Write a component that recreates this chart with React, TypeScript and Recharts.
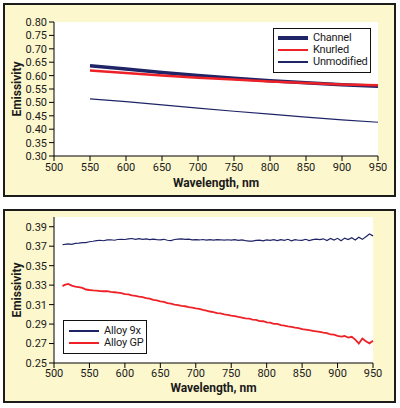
import { CartesianGrid, Legend, Line, LineChart, XAxis, YAxis } from "recharts"

// top panel: emissivity vs wavelength for three surface treatments
const topWavelengths = [550, 600, 650, 700, 750, 800, 850, 900, 950]
const channel = [0.637, 0.625, 0.612, 0.6, 0.59, 0.581, 0.573, 0.566, 0.56]
const knurled = [0.619, 0.61, 0.6, 0.592, 0.585, 0.578, 0.572, 0.567, 0.564]
const unmodified = [0.513, 0.503, 0.491, 0.479, 0.467, 0.456, 0.445, 0.435, 0.426]
const topXTicks = [500, 550, 600, 650, 700, 750, 800, 850, 900, 950]
const topYTicks = [0.3, 0.35, 0.4, 0.45, 0.5, 0.55, 0.6, 0.65, 0.7, 0.75, 0.8]

// bottom panel: two alloys, noisy spectra
const bottomWavelengths = [
  512, 515, 520, 525, 530, 535, 540, 545, 550, 555, 560, 565, 570, 575, 580, 585, 590, 595, 600, 605, 610, 615,
  620, 625, 630, 635, 640, 645, 650, 655, 660, 665, 670, 675, 680, 685, 690, 695, 700, 705, 710, 715, 720, 725,
  730, 735, 740, 745, 750, 755, 760, 765, 770, 775, 780, 785, 790, 795, 800, 805, 810, 815, 820, 825, 830, 835,
  840, 845, 850, 855, 860, 865, 870, 875, 880, 885, 890, 895, 900, 905, 910, 915, 920, 925, 930, 935, 940, 945,
  950,
]
const alloy9x = [
  0.3715, 0.3718, 0.3724, 0.3719, 0.3729, 0.3731, 0.3736, 0.3737, 0.3746, 0.3751, 0.3758, 0.3761, 0.3756, 0.3765,
  0.3766, 0.3761, 0.3769, 0.3771, 0.3769, 0.3776, 0.3779, 0.3771, 0.3777, 0.377, 0.3775, 0.3767, 0.3773, 0.3768,
  0.3766, 0.3771, 0.3761, 0.3757, 0.3769, 0.3772, 0.3775, 0.377, 0.3773, 0.3765, 0.3768, 0.3764, 0.3769, 0.3762,
  0.3767, 0.3763, 0.3768, 0.3766, 0.3762, 0.3766, 0.3762, 0.3767, 0.3759, 0.3764, 0.3757, 0.3753, 0.3752, 0.3759,
  0.3762, 0.3755, 0.3765, 0.3759, 0.3767, 0.3757, 0.3768, 0.3761, 0.3771, 0.3755, 0.3767, 0.3761, 0.376, 0.3771,
  0.3757, 0.3767, 0.3773, 0.3767, 0.3776, 0.3759, 0.3779, 0.3763, 0.3781, 0.3757, 0.3783, 0.3768, 0.3788, 0.3764,
  0.3792, 0.377, 0.3797, 0.3825, 0.3806,
]
const alloyGP = [
  0.329, 0.3302, 0.3313, 0.3295, 0.3285, 0.3279, 0.3271, 0.3255, 0.325, 0.3246, 0.3244, 0.3239, 0.3237, 0.3238,
  0.323, 0.3227, 0.3223, 0.3217, 0.3207, 0.3205, 0.3195, 0.3189, 0.3181, 0.3177, 0.3167, 0.3161, 0.3149, 0.3143,
  0.3134, 0.3127, 0.3115, 0.3109, 0.3099, 0.3095, 0.3087, 0.3083, 0.3075, 0.3069, 0.3061, 0.3056, 0.3045, 0.3039,
  0.3029, 0.3023, 0.3013, 0.3009, 0.2999, 0.2995, 0.2987, 0.2981, 0.2973, 0.2967, 0.2959, 0.2957, 0.2945, 0.2943,
  0.2931, 0.2929, 0.2917, 0.2915, 0.2903, 0.2901, 0.2889, 0.2885, 0.2877, 0.2871, 0.2863, 0.2859, 0.2847, 0.2843,
  0.2837, 0.2831, 0.2825, 0.2819, 0.2811, 0.2807, 0.2793, 0.2791, 0.2779, 0.2771, 0.2777, 0.2761, 0.2769, 0.2741,
  0.27, 0.2752, 0.2723, 0.2702, 0.2728,
]
const bottomXTicks = [500, 550, 600, 650, 700, 750, 800, 850, 900, 950]
const bottomYTicks = [0.25, 0.27, 0.29, 0.31, 0.33, 0.35, 0.37, 0.39]

const topData = topWavelengths.map((nm, i) => ({
  nm,
  Channel: channel[i],
  Knurled: knurled[i],
  Unmodified: unmodified[i],
}))
const bottomData = bottomWavelengths.map((nm, i) => ({ nm, "Alloy 9x": alloy9x[i], "Alloy GP": alloyGP[i] }))

const NAVY = "#1f2466"
const RED = "#ee2127"
const INK = "#1a1a1a"
const tickStyle = { fill: INK, fontSize: 11 }

function LegendBox({ payload, padLeft, padTop }: any) {
  return (
    <div
      style={{
        background: "#fff",
        border: "1px solid #111",
        padding: `${padTop}px 2px 4px ${padLeft}px`,
        boxSizing: "border-box",
        whiteSpace: "nowrap",
      }}
    >
      {(payload || []).map((entry: any) => (
        <div key={entry.value} style={{ display: "flex", alignItems: "center", height: 12 }}>
          <span
            style={{
              display: "inline-block",
              flex: "none",
              width: 30,
              height: (entry.payload && entry.payload.strokeWidth) || 1.5,
              background: entry.color,
            }}
          />
          <span style={{ marginLeft: 5, fontSize: 11, lineHeight: "12px", color: INK, letterSpacing: -0.2 }}>
            {entry.value}
          </span>
        </div>
      ))}
    </div>
  )
}

const panelStyle = {
  position: "absolute" as const,
  left: 3,
  width: 393,
  height: 194,
  background: "#fcf7cd",
  border: "2px solid #1c1c1c",
  boxSizing: "border-box" as const,
}

export default function App() {
  return (
    <div style={{ position: "absolute", left: 0, top: 0, width: 400, height: 408, background: "#fff", fontFamily: "Roboto, sans-serif" }}>
      <div style={{ ...panelStyle, top: 3 }} />
      <div style={{ ...panelStyle, top: 209 }} />

      <div style={{ position: "absolute", left: 0, top: 0 }}>
        <LineChart width={400} height={200} data={topData} margin={{ top: 22, right: 22, left: 0, bottom: 8 }}>
          <CartesianGrid horizontal={false} vertical={false} fill="#fff" stroke="none" />
          <XAxis
            dataKey="nm"
            type="number"
            domain={[500, 950]}
            ticks={topXTicks}
            interval={0}
            height={36}
            stroke="#000"
            tickSize={5}
            tickMargin={2}
            tick={tickStyle}
            label={{ value: "Wavelength, nm", position: "insideBottom", offset: 5, fill: INK, fontSize: 12, fontWeight: 700 }}
          />
          <YAxis
            type="number"
            domain={[0.3, 0.8]}
            ticks={topYTicks}
            interval={0}
            width={54}
            stroke="#000"
            tickSize={5}
            tickMargin={2}
            tick={tickStyle}
            tickFormatter={(v: number) => v.toFixed(2)}
            label={{ value: "Emissivity", angle: -90, position: "insideLeft", offset: 17, fill: INK, fontSize: 12, fontWeight: 700, style: { textAnchor: "middle" } }}
          />
          <Legend
            layout="horizontal"
            verticalAlign="middle"
            align="center"
            wrapperStyle={{ left: 273, top: 28, width: 98 }}
            content={(props: any) => <LegendBox {...props} padLeft={4} padTop={3} />}
          />
          <Line dataKey="Channel" type="linear" stroke={NAVY} strokeWidth={3.5} dot={false} isAnimationActive={false} />
          <Line dataKey="Knurled" type="linear" stroke={RED} strokeWidth={2.5} dot={false} isAnimationActive={false} />
          <Line dataKey="Unmodified" type="linear" stroke={NAVY} strokeWidth={1.2} dot={false} isAnimationActive={false} />
        </LineChart>
      </div>

      <div style={{ position: "absolute", left: 0, top: 205 }}>
        <LineChart width={400} height={200} data={bottomData} margin={{ top: 12, right: 27, left: 0, bottom: 6 }}>
          <CartesianGrid horizontal={false} vertical={false} fill="#fff" stroke="none" />
          <XAxis
            dataKey="nm"
            type="number"
            domain={[500, 950]}
            ticks={bottomXTicks}
            interval={0}
            height={36}
            stroke="#000"
            tickSize={5}
            tickMargin={1}
            tick={tickStyle}
            label={{ value: "Wavelength, nm", position: "insideBottom", offset: 7, fill: INK, fontSize: 12, fontWeight: 700 }}
          />
          <YAxis
            type="number"
            domain={[0.25, 0.4]}
            ticks={bottomYTicks}
            interval={0}
            width={54}
            stroke="#000"
            tickSize={5}
            tickMargin={2}
            tick={tickStyle}
            tickFormatter={(v: number) => v.toFixed(2)}
            label={{ value: "Emissivity", angle: -90, position: "insideLeft", offset: 17, fill: INK, fontSize: 12, fontWeight: 700, style: { textAnchor: "middle" } }}
          />
          <Legend
            layout="horizontal"
            verticalAlign="middle"
            align="center"
            wrapperStyle={{ left: 63, top: 115, width: 84 }}
            content={(props: any) => <LegendBox {...props} padLeft={5} padTop={4} />}
          />
          <Line dataKey="Alloy 9x" type="linear" stroke={NAVY} strokeWidth={1.2} dot={false} isAnimationActive={false} />
          <Line dataKey="Alloy GP" type="linear" stroke={RED} strokeWidth={1.8} dot={false} isAnimationActive={false} />
        </LineChart>
      </div>
    </div>
  )
}
